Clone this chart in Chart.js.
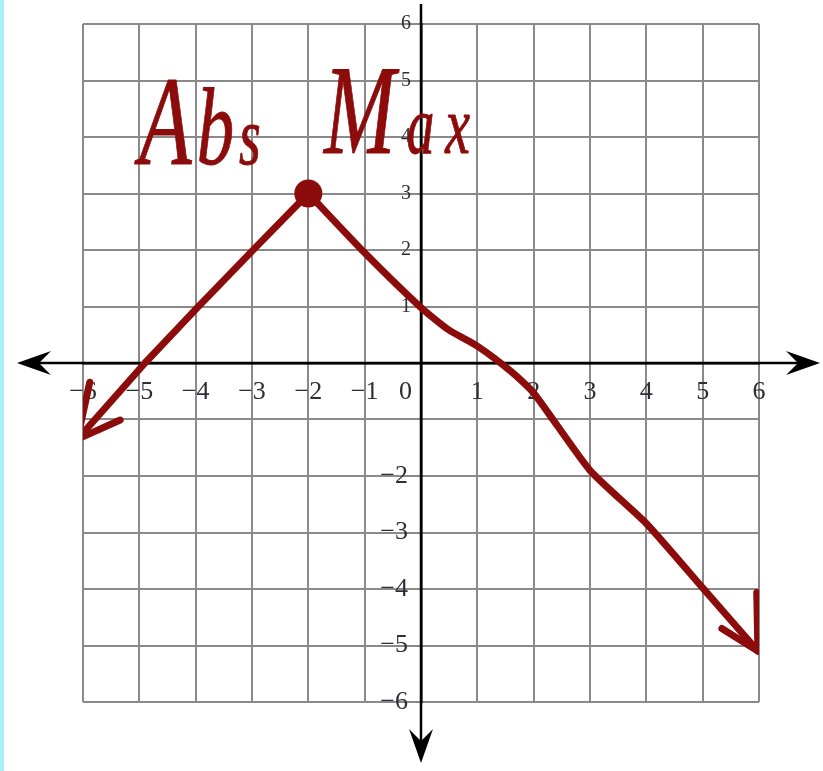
<!DOCTYPE html>
<html>
<head>
<meta charset="utf-8">
<title>Abs Max</title>
<script src="https://cdn.jsdelivr.net/npm/chart.js@4.4.1/dist/chart.umd.min.js"></script>
<style>
  html, body { margin: 0; padding: 0; background: #fff; }
  #wrap { position: relative; width: 823px; height: 771px; }
  #edge { position: absolute; left: 0; top: 0; width: 4px; height: 100%; background: #a8f0f6; }
</style>
</head>
<body>
<div id="wrap">
  <canvas id="absChart"></canvas>
  <div id="edge"></div>
</div>
<script>
// Graph of the function: straight rise on the left, bending fall on the right
const leftBranchX = [-6.1, -4.9, -4, -3, -2];
const leftBranchY = [-1.35, 0, 0.95, 1.98, 3];
const rightBranchX = [-2, -1, 0, 0.5, 1, 1.6, 2, 3, 4, 5, 5.98];
const rightBranchY = [3, 1.95, 0.98, 0.58, 0.3, -0.15, -0.53, -1.9, -2.84, -3.98, -5.1];

// Arrow heads at both ends of the graph
const leftHeadX = [-5.88, -6.1, -5.34];
const leftHeadY = [-0.34, -1.35, -1.01];
const rightHeadX = [5.96, 5.98, 5.34];
const rightHeadY = [-4.06, -5.1, -4.7];

// The maximum point
const maxX = [-2];
const maxY = [3];

// Axis ticks
const tickMin = -6;
const tickMax = 6;
const hiddenYTicks = [0, -1];

const red = '#8c0b0b';
const minus = v => (v < 0 ? '\u2212' + Math.abs(v) : String(v));
const pts = (xs, ys) => xs.map((v, i) => ({ x: v, y: ys[i] }));

// Axis lines running past the grid, with arrow heads
const axisArrows = {
  id: 'axisArrows',
  beforeDatasetsDraw(chart, args, opts) {
    const { ctx, scales: { x, y } } = chart;
    const x0 = x.getPixelForValue(0);
    const y0 = y.getPixelForValue(0);
    ctx.save();
    ctx.strokeStyle = '#000';
    ctx.fillStyle = '#000';
    ctx.lineWidth = 2.5;
    ctx.beginPath();
    ctx.moveTo(opts.left + 10, y0); ctx.lineTo(opts.right - 10, y0);
    ctx.moveTo(x0, opts.top); ctx.lineTo(x0, opts.bottom - 10);
    ctx.stroke();
    const head = (tx, ty, dx, dy) => {
      const len = 34, notch = 22, w = 12;
      const bx = tx - dx * len, by = ty - dy * len;
      ctx.beginPath();
      ctx.moveTo(tx, ty);
      ctx.lineTo(bx - dy * w, by + dx * w);
      ctx.lineTo(tx - dx * notch, ty - dy * notch);
      ctx.lineTo(bx + dy * w, by - dx * w);
      ctx.closePath();
      ctx.fill();
    };
    head(opts.left, y0, -1, 0);
    head(opts.right, y0, 1, 0);
    head(x0, opts.bottom, 0, 1);
    ctx.restore();
  }
};

// Handwritten note
const handNote = {
  id: 'handNote',
  afterDatasetsDraw(chart, args, opts) {
    const { ctx, scales: { x, y } } = chart;
    ctx.save();
    ctx.fillStyle = opts.color;
    ctx.strokeStyle = opts.color;
    ctx.lineWidth = opts.stroke;
    ctx.lineJoin = 'round';
    ctx.textBaseline = 'alphabetic';
    opts.words.forEach((w, i) => {
      let px = x.getPixelForValue(opts.at[i][0]);
      const py = y.getPixelForValue(opts.at[i][1]);
      for (const ch of w) {
        const size = /[A-Z]/.test(ch) ? opts.capSize : (ch === 'b' ? opts.tallSize : opts.smallSize);
        ctx.font = `italic ${size}px ${opts.family}`;
        ctx.save();
        ctx.translate(px, py);
        ctx.scale(opts.squeeze, 1);
        ctx.fillText(ch, 0, 0);
        ctx.strokeText(ch, 0, 0);
        ctx.restore();
        px += ctx.measureText(ch).width * opts.squeeze + opts.gap[i];
      }
    });
    ctx.restore();
  }
};

const lineSet = (data, tension) => ({
  data: data,
  borderColor: red,
  borderWidth: 7,
  borderCapStyle: 'round',
  borderJoinStyle: 'round',
  pointRadius: 0,
  tension: tension,
  fill: false,
  showLine: true
});

const data = {
  datasets: [
    lineSet(pts(leftBranchX, leftBranchY), 0),
    lineSet(pts(rightBranchX, rightBranchY), 0.2),
    lineSet(pts(leftHeadX, leftHeadY), 0),
    lineSet(pts(rightHeadX, rightHeadY), 0),
    {
      data: pts(maxX, maxY),
      pointRadius: 14,
      pointBackgroundColor: red,
      pointBorderWidth: 0,
      showLine: false
    }
  ]
};

const tickFont = (size) => ({ family: "'Liberation Serif', serif", size: size });

const options = {
  responsive: true,
  maintainAspectRatio: false,
  animation: false,
  layout: { padding: { left: 83, right: 64, top: 24, bottom: 69 } },
  plugins: {
    legend: { display: false },
    tooltip: { enabled: false },
    axisArrows: { left: 17, right: 820, top: 4, bottom: 763 },
    handNote: {
      words: ['Abs', 'Max'],
      at: [[-5.0, 3.52], [-1.72, 3.72]],
      color: red,
      family: "'Liberation Serif'",
      capSize: 126,
      tallSize: 110,
      smallSize: 82,
      squeeze: 0.68,
      stroke: 1,
      gap: [5, 11]
    }
  },
  scales: {
    x: {
      type: 'linear',
      min: tickMin,
      max: tickMax,
      position: { y: 0 },
      border: { display: true, color: '#000', width: 2.5 },
      grid: { color: '#8a8a8a', lineWidth: 2, drawTicks: false },
      ticks: {
        stepSize: 1,
        padding: 14,
        color: '#2e2e38',
        font: tickFont(26),
        maxRotation: 0,
        autoSkip: false,
        callback: v => (v === 0 ? '0\u2003\u2009' : minus(v))
      }
    },
    y: {
      type: 'linear',
      min: tickMin,
      max: tickMax,
      position: { x: 0 },
      border: { display: true, color: '#000', width: 2.5 },
      grid: { color: '#8a8a8a', lineWidth: 2, drawTicks: false },
      ticks: {
        stepSize: 1,
        color: '#2e2e38',
        font: c => tickFont(c.tick && c.tick.value > 0 ? 20 : 26),
        autoSkip: false,
        // trailing space keeps the labels clear of the axis line
        callback: v => (hiddenYTicks.includes(v) ? '' : minus(v) + '\u2002')
      }
    }
  }
};

new Chart(document.getElementById('absChart'), {
  type: 'scatter',
  data: data,
  options: options,
  plugins: [axisArrows, handNote]
});
</script>
</body>
</html>
